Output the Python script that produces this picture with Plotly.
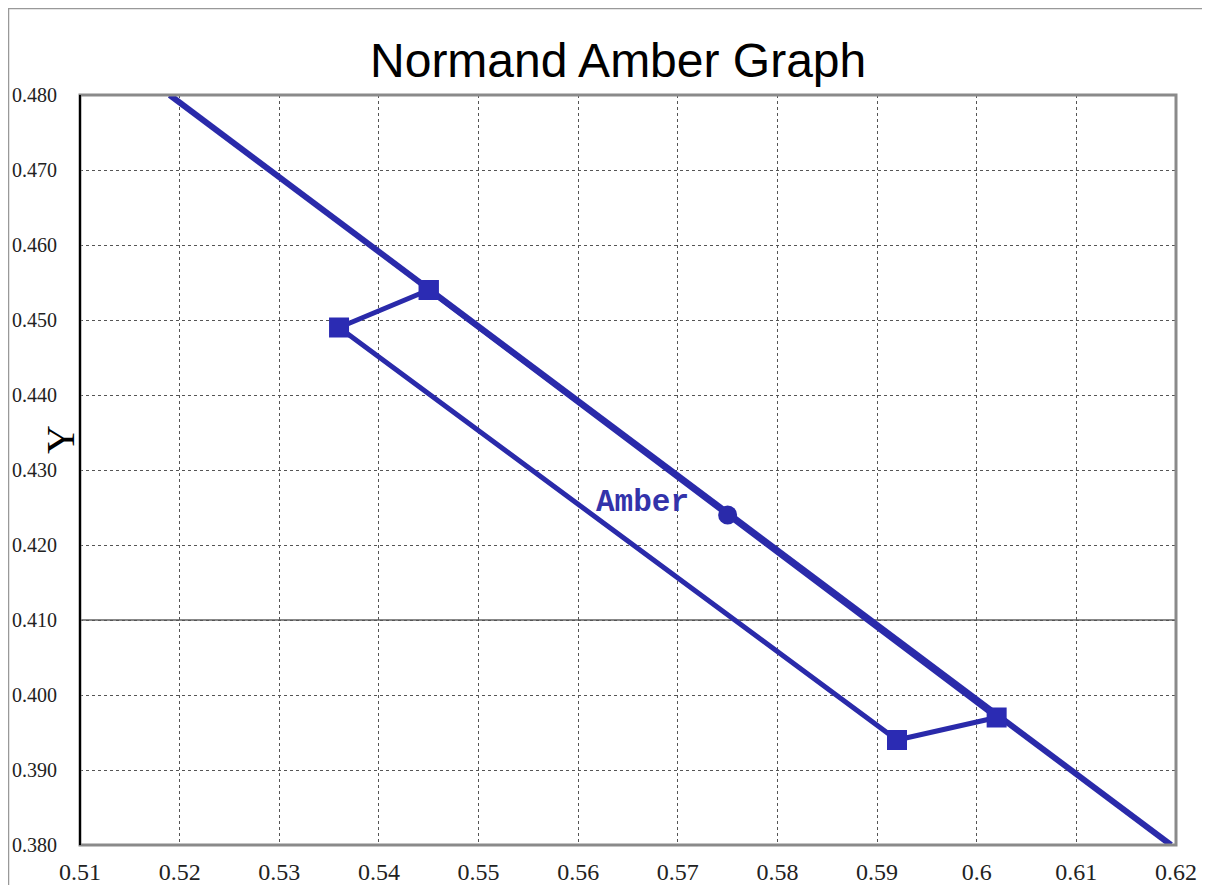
import plotly.graph_objects as go

# Data
locus_x = [0.519, 0.6195]
locus_y = [0.480, 0.380]
poly_x = [0.545, 0.536, 0.592, 0.602, 0.545]
poly_y = [0.454, 0.449, 0.394, 0.397, 0.454]
center_x = [0.575]
center_y = [0.424]
label_text = "Amber"
label_x = 0.5665
label_y = 0.4257
x_ticks = [0.51, 0.52, 0.53, 0.54, 0.55, 0.56, 0.57, 0.58, 0.59, 0.60, 0.61, 0.62]
x_tick_text = ["0.51", "0.52", "0.53", "0.54", "0.55", "0.56", "0.57", "0.58", "0.59", "0.6", "0.61", "0.62"]
y_ticks = [0.38, 0.39, 0.40, 0.41, 0.42, 0.43, 0.44, 0.45, 0.46, 0.47, 0.48]
y_tick_text = ["0.380", "0.390", "0.400", "0.410", "0.420", "0.430", "0.440", "0.450", "0.460", "0.470", "0.480"]
ref_line_y = 0.41

BLUE = "#2a2aaa"

ML, MR, MT, MB = 72, 42, 87, 48
W, H = 1210, 885
PW = W - ML - MR
PH = H - MT - MB

fig = go.Figure()
fig.add_trace(go.Scatter(x=locus_x, y=locus_y, mode="lines",
                         line=dict(color=BLUE, width=6), showlegend=False, hoverinfo="skip"))
fig.add_trace(go.Scatter(x=poly_x, y=poly_y, mode="lines+markers",
                         line=dict(color=BLUE, width=5),
                         marker=dict(symbol="square", size=20, color="#2b2bb3"),
                         showlegend=False))
fig.add_trace(go.Scatter(x=center_x, y=center_y, mode="markers",
                         marker=dict(symbol="circle", size=19, color=BLUE),
                         showlegend=False))

fig.add_annotation(x=label_x, y=label_y, text=label_text, showarrow=False,
                   font=dict(family="Liberation Mono", size=31, color="#3333aa", weight="bold"))

# Y axis title
fig.add_annotation(xref="paper", yref="paper", x=-20 / PW, y=0.54, text="Y",
                   xanchor="center", yanchor="middle",
                   textangle=-90, showarrow=False,
                   font=dict(family="Liberation Serif", size=40, color="black"))

# solid reference line at 0.41
fig.add_shape(type="line", xref="paper", x0=0, x1=1, yref="y", y0=ref_line_y, y1=ref_line_y,
              line=dict(color="#888888", width=2), layer="below")
# frame
fig.add_shape(type="rect", xref="paper", yref="paper", x0=0, x1=1, y0=0, y1=1,
              line=dict(color="#8a8a8a", width=3))
fig.add_shape(type="line", xref="paper", yref="paper", x0=0, x1=0, y0=0, y1=1,
              line=dict(color="black", width=2))
# outer figure border
fig.add_shape(type="rect", xref="paper", yref="paper",
              x0=-(ML - 0.5) / PW, x1=1 + (MR - 0.5) / PW,
              y0=-(MB - 0.5) / PH, y1=1 + (MT - 0.5) / PH,
              line=dict(color="#999999", width=1.5))

fig.update_layout(
    width=W, height=H,
    margin=dict(l=ML, r=MR, t=MT, b=MB, autoexpand=False),
    paper_bgcolor="white", plot_bgcolor="white",
    title=dict(text="Normand Amber Graph", x=0.491, xanchor="center", xref="paper",
               y=1 - 52 / H, yanchor="middle",
               font=dict(family="Liberation Sans", size=48, color="black")),
    xaxis=dict(range=[0.51, 0.62], tickvals=x_ticks, ticktext=x_tick_text,
               showgrid=True, gridcolor="#555555", gridwidth=1, griddash="dot",
               zeroline=False, showline=False, ticks="", ticklabelstandoff=10,
               automargin=False,
               tickfont=dict(family="Liberation Serif", size=24, color="#222222")),
    yaxis=dict(range=[0.38, 0.48], tickvals=y_ticks, ticktext=y_tick_text,
               showgrid=True, gridcolor="#555555", gridwidth=1, griddash="dot",
               zeroline=False, showline=False, ticks="", ticklabelstandoff=22,
               automargin=False,
               tickfont=dict(family="Liberation Serif", size=20, color="#222222")),
)

fig.write_html("out.html")
